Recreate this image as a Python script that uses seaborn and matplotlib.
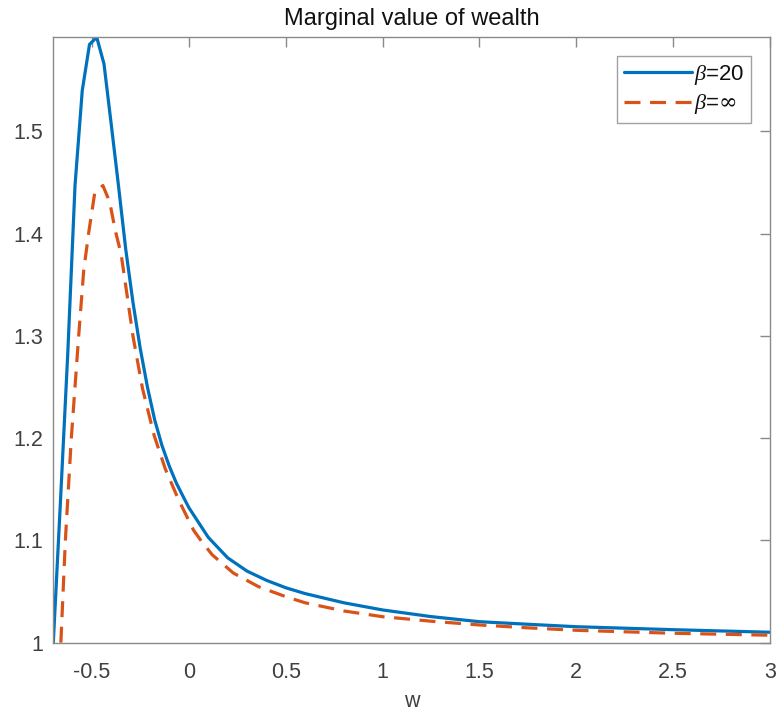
import matplotlib
matplotlib.use("Agg")
import matplotlib.pyplot as plt
import seaborn as sns
import pandas as pd

# ---- data ----
w_beta20 = [-0.7, -0.6626, -0.6253, -0.5879, -0.5505, -0.5131, -0.4758, -0.4384,
            -0.401, -0.3636, -0.3263, -0.2889, -0.2515, -0.2141, -0.1768, -0.1394,
            -0.102, -0.0646, -0.0273, 0.0, 0.1, 0.2, 0.3, 0.4, 0.5, 0.6, 0.8, 1.0,
            1.25, 1.5, 1.75, 2.0, 2.5, 3.0]
v_beta20 = [1.0, 1.14, 1.283, 1.447, 1.540, 1.585, 1.592, 1.566,
            1.507, 1.447, 1.385, 1.333, 1.288, 1.250, 1.218, 1.193,
            1.173, 1.156, 1.142, 1.132, 1.103, 1.083, 1.070, 1.061, 1.0537, 1.048, 1.039, 1.032,
            1.0255, 1.0205, 1.018, 1.0156, 1.0127, 1.0102]

w_betainf = [-0.661, -0.638, -0.607, -0.569, -0.543, -0.518, -0.486, -0.444,
             -0.409, -0.380, -0.350, -0.320, -0.289, -0.240, -0.180, -0.122,
             -0.054, 0.024, 0.058, 0.12, 0.23, 0.36, 0.5, 0.6, 0.8, 1.0,
             1.25, 1.5, 1.75, 2.0, 2.5, 3.0]
v_betainf = [1.0, 1.099, 1.200, 1.300, 1.364, 1.400, 1.440, 1.447,
             1.431, 1.403, 1.380, 1.341, 1.300, 1.249, 1.203, 1.170,
             1.140, 1.110, 1.101, 1.086, 1.068, 1.0547, 1.045, 1.039, 1.031, 1.0254,
             1.021, 1.0173, 1.0145, 1.0121, 1.0092, 1.0073]

x_ticks = [-0.5, 0, 0.5, 1, 1.5, 2, 2.5, 3]
x_ticklabels = ["-0.5", "0", "0.5", "1", "1.5", "2", "2.5", "3"]
y_ticks = [1.0, 1.1, 1.2, 1.3, 1.4, 1.5]
y_ticklabels = ["1", "1.1", "1.2", "1.3", "1.4", "1.5"]
labels = [r"$\beta$=20", r"$\beta$=$\mathsf{\infty}$"]
title = "Marginal value of wealth"
xlabel = "w"

df1 = pd.DataFrame({"w": w_beta20, "v": v_beta20})
df2 = pd.DataFrame({"w": w_betainf, "v": v_betainf})

sns.set_style("white")
plt.rcParams["font.family"] = ["Liberation Sans", "DejaVu Sans"]
plt.rcParams["mathtext.fontset"] = "custom"
plt.rcParams["mathtext.it"] = "Liberation Serif:italic"
plt.rcParams["mathtext.rm"] = "Liberation Sans"
plt.rcParams["mathtext.sf"] = "DejaVu Serif"
plt.rcParams["mathtext.fallback"] = "cm"

fig = plt.figure(figsize=(7.77, 7.14), dpi=100)
ax = fig.add_axes([0.0686, 0.0999, 0.9224, 0.8479])

sns.lineplot(data=df1, x="w", y="v", ax=ax, color="#0072BD", lw=2.3,
             label=labels[0], sort=False)
sns.lineplot(data=df2, x="w", y="v", ax=ax, color="#D95319", lw=2.3,
             label=labels[1], sort=False)
ax.lines[1].set_dashes((5, 3))

ax.set_xlim(-0.7, 3)
ax.set_ylim(1.0, 1.592)
ax.set_xticks(x_ticks)
ax.set_xticklabels(x_ticklabels)
ax.set_yticks(y_ticks)
ax.set_yticklabels(y_ticklabels)

txt_color = "#404040"
for s in ax.spines.values():
    s.set_color("#8a8a8a")
    s.set_linewidth(1.0)
    s.set_visible(True)
ax.tick_params(direction="in", length=7, width=1.0, color="#8a8a8a",
               top=True, right=True, labelsize=15.5, labelcolor=txt_color)
ax.tick_params(axis="x", pad=14)
ax.tick_params(axis="y", pad=7)

ax.set_title(title, fontsize=17, color="#111111", pad=9)
ax.set_xlabel(xlabel, fontsize=15.5, color=txt_color, labelpad=6)
ax.set_ylabel("")

leg = ax.legend(loc="upper right", fontsize=16, frameon=True, fancybox=False,
                edgecolor="#8a8a8a", borderaxespad=0.85, handlelength=3.05,
                handletextpad=0.1, borderpad=0.3, labelspacing=0.25)
leg.get_frame().set_linewidth(1.0)
for t in leg.get_texts():
    t.set_color("#111111")

fig.savefig("out.png", dpi=100)
